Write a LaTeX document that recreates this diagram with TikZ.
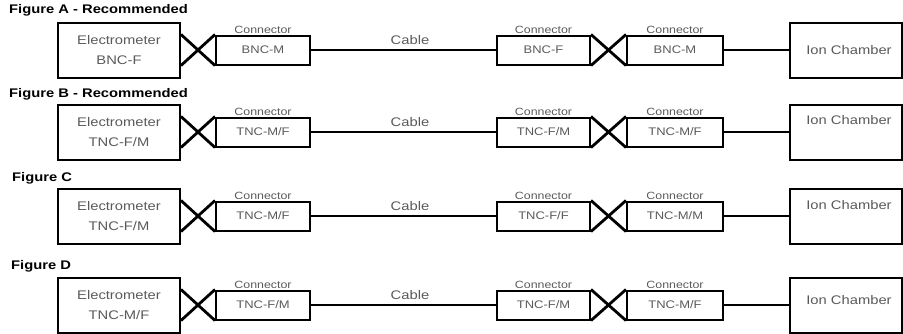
\documentclass[tikz,border=0pt]{standalone}
\usepackage{fontspec}
\newfontfamily\arialx[FakeStretch=1.18]{Liberation Sans}
\definecolor{txtgray}{HTML}{5A5A5A}
\begin{document}
\begin{tikzpicture}[x=1pt,y=-1pt,
  frame/.style={draw=black, line width=2pt, inner sep=0pt, text=txtgray, align=center},
  elecbox/.style={frame, minimum width=122pt, minimum height=55pt, font=\arialx\fontsize{12.5}{20}\selectfont},
  conbox/.style={frame, minimum height=29pt, font=\arialx\fontsize{11}{13}\selectfont},
  ionbox/.style={frame, minimum width=112pt, minimum height=55pt},
  iontext/.style={text=txtgray, font=\arialx\fontsize{12.5}{15}\selectfont, inner sep=0pt},
  conlabel/.style={text=txtgray, font=\arialx\fontsize{10.5}{12}\selectfont, inner sep=1pt, anchor=south},
  cablelabel/.style={text=txtgray, font=\arialx\fontsize{12.5}{15}\selectfont, inner sep=0pt},
  figtitle/.style={anchor=west, inner sep=0pt, font=\arialx\bfseries\fontsize{12.5}{15}\selectfont},
  wire/.style={line width=2.8pt},
]
\useasboundingbox (0,0) rectangle (903,333);

% ---------- rows ----------
\foreach \r/\yy/\ty/\tx/\title/\el/\ca/\cb/\cc/\iy in {
  A/50/10/9/{Figure A - Recommended}/{BNC-F}/{BNC-M}/{BNC-F}/{BNC-M}/50,
  B/132/94/9/{Figure B - Recommended}/{TNC-F/M}/{TNC-M/F}/{TNC-F/M}/{TNC-M/F}/120,
  C/216/178/12/{Figure C}/{TNC-F/M}/{TNC-M/F}/{TNC-F/F}/{TNC-M/M}/205,
  D/305/266/11/{Figure D}/{TNC-M/F}/{TNC-F/M}/{TNC-F/M}/{TNC-M/F}/300}
{
  \node[figtitle] (t\r) at (\tx,\ty) {\title};
  \node[elecbox] (e\r) at (119,\yy) {Electrometer\\\el};
  \node[conbox, minimum width=94pt] (c1\r) at (263,\yy) {\ca};
  \node[conbox, minimum width=93pt] (c2\r) at (543.5,\yy) {\cb};
  \node[conbox, minimum width=96pt] (c3\r) at (675,\yy) {\cc};
  \node[ionbox] (i\r) at (846,\yy) {};
  \node[iontext] (it\r) at (849,\iy) {Ion Chamber};
  \node[conlabel] (l1\r) at (c1\r.north) {Connector};
  \node[conlabel] (l2\r) at (c2\r.north) {Connector};
  \node[conlabel] (l3\r) at (c3\r.north) {Connector};
  \node[cablelabel] (cl\r) at (410,\yy-10) {Cable};
  % connectors
  \draw[wire] (c1\r.east) -- (c2\r.west);
  \draw[wire] (c3\r.east) -- (i\r.west);
  \draw[wire] (e\r.east |- c1\r.north) -- (c1\r.south west);
  \draw[wire] (e\r.east |- c1\r.south) -- (c1\r.north west);
  \draw[wire] (c2\r.north east) -- (c3\r.south west);
  \draw[wire] (c2\r.south east) -- (c3\r.north west);
}
\end{tikzpicture}
\end{document}
